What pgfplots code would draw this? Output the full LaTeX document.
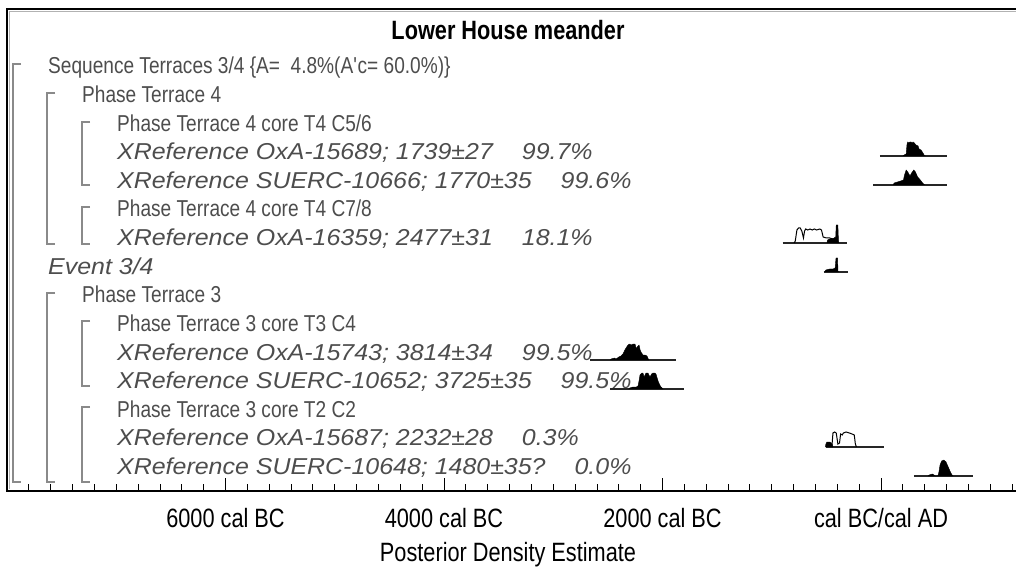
\documentclass[border=0pt]{standalone}
\usepackage{pgfplots}
\pgfplotsset{compat=1.18}
\usepackage{pgfplotstable}
\usepackage{fontspec}
\setmainfont{Liberation Sans}
\newfontfamily\rlab{Liberation Sans}[FakeStretch=0.83]
\newfontfamily\ilab{Liberation Sans}[FakeStretch=1.085]
\newfontfamily\tlab{Liberation Sans}[FakeStretch=0.82]
\definecolor{txt}{HTML}{4D4D4D}
\definecolor{brk}{HTML}{8A8A8A}
\newcommand{\xref}[2]{\ilab\itshape #1\hspace*{29pt}#2}

% posterior densities: x = year (BC negative), h = drawn height
\pgfplotstableread{
x h
200 0
211 1
230 2
238 12
245 14
256 13
265 14
275 14
285 13
293 14
305 13
320 11
339 10
348 7
366 6
384 3
394 1
405 0
}\oxaA
\pgfplotstableread{
x h
110 0
120 2
150 3
180 4
205 5
215 10
230 15
245 13
265 9
280 12
300 15
315 13
335 8
360 5
380 2
400 0
}\suercA
\pgfplotstableread{
x h
-795 0
-785 2
-770 13
-755 15
-740 15
-725 12
-710 5
-700 12
-690 14
-670 13
-650 14
-630 13
-610 14
-590 13
-560 14
-545 13
-530 6
-500 5
-470 5
-440 4
-410 4
-400 0
}\oxaBprior
\pgfplotstableread{
x h
-495 0
-490 3
-470 4
-450 4
-430 5
-415 6
-410 18
-395 18
-390 3
-385 0
}\oxaB
\pgfplotstableread{
x h
-515 0
-505 2
-470 3
-440 3
-420 4
-412 14
-398 14
-394 1
-390 0
}\event
\pgfplotstableread{
x h
-2480 0
-2471 1
-2440 2
-2426 1
-2400 3
-2380 4
-2362 6
-2345 10
-2334 12
-2316 15
-2300 16
-2288 15
-2270 16
-2252 16
-2240 11
-2233 13
-2215 15
-2205 10
-2197 8
-2179 5
-2160 5
-2142 4
-2130 1
-2124 0
}\oxaC
\pgfplotstableread{
x h
-2310 0
-2300 1
-2270 2
-2240 2
-2224 3
-2215 8
-2206 14
-2190 16
-2179 16
-2169 12
-2151 16
-2133 16
-2115 12
-2100 15
-2087 16
-2070 16
-2060 15
-2041 8
-2025 4
-2014 2
-1995 0
}\suercC
\pgfplotstableread{
x h
-450 0
-440 14
-425 15
-410 14
-395 3
-380 4
-370 13
-355 12
-345 14
-320 15
-290 14
-265 13
-245 12
-235 3
-225 0
}\oxaDprior
\pgfplotstableread{
x h
-510 0
-505 3
-495 5
-470 5
-455 4
-445 2
-440 0
}\oxaD
\pgfplotstableread{
x h
430 0
440 1
470 2
485 1
495 0
520 0
530 4
540 11
555 15
575 16
595 14
615 9
635 4
650 1
660 0
}\suercE

\begin{document}
\begin{tikzpicture}[font=\rlab\fontsize{23}{26}\selectfont]
\begin{axis}[
  scale only axis, width=1012pt, height=482pt,
  xmin=-8000, xmax=1263, ymin=0, ymax=482,
  axis line style={line width=1.8pt, black},
  xtick={-6000,-4000,-2000,0},
  xticklabels={6000 cal BC,4000 cal BC,2000 cal BC,cal BC/cal AD},
  minor xtick={-7800,-7600,...,1200},
  xtick pos=bottom, xtick align=inside, ytick=\empty,
  major tick length=13pt, minor tick length=7pt,
  major tick style={black, line width=0.9pt},
  minor tick style={black, line width=0.9pt},
  xticklabel style={font=\tlab\fontsize{26.5}{29}\selectfont, black, yshift=-14pt},
]
% baselines
\addplot[black!85, line width=1.4pt] coordinates {(-10,335) (605,335)};
\addplot[black!85, line width=1.4pt] coordinates {(-70,306) (605,306)};
\addplot[black!85, line width=1.4pt] coordinates {(-900,248) (-310,248)};
\addplot[black!85, line width=1.4pt] coordinates {(-525,219) (-300,219)};
\addplot[black!85, line width=1.4pt] coordinates {(-2660,131) (-1880,131)};
\addplot[black!85, line width=1.4pt] coordinates {(-2480,102) (-1800,102)};
\addplot[black!85, line width=1.4pt] coordinates {(-505,44) (25,44)};
\addplot[black!85, line width=1.4pt] coordinates {(300,15) (840,15)};
% priors (outline)
\addplot[black, line width=1pt] table[x=x, y expr=\thisrow{h}+248] {\oxaBprior};
\addplot[black, line width=1pt] table[x=x, y expr=\thisrow{h}+44] {\oxaDprior};
% posteriors (filled)
\addplot[fill=black, draw=black, line width=0.4pt] table[x=x, y expr=\thisrow{h}+335] {\oxaA};
\addplot[fill=black, draw=black, line width=0.4pt] table[x=x, y expr=\thisrow{h}+306] {\suercA};
\addplot[fill=black, draw=black, line width=0.4pt] table[x=x, y expr=\thisrow{h}+248] {\oxaB};
\addplot[fill=black, draw=black, line width=0.4pt] table[x=x, y expr=\thisrow{h}+219] {\event};
\addplot[fill=black, draw=black, line width=0.4pt] table[x=x, y expr=\thisrow{h}+131] {\oxaC};
\addplot[fill=black, draw=black, line width=0.4pt] table[x=x, y expr=\thisrow{h}+102] {\suercC};
\addplot[fill=black, draw=black, line width=0.4pt] table[x=x, y expr=\thisrow{h}+44] {\oxaD};
\addplot[fill=black, draw=black, line width=0.4pt] table[x=x, y expr=\thisrow{h}+15] {\suercE};
\end{axis}

% labels and brackets, in picture pixels (origin top left)
\begin{scope}[shift={(-7pt,491pt)}, x=1pt, y=-1pt]
\draw[gray!60, line width=1pt] (9,11.5) -- (1016,11.5);
\draw[gray!60, line width=1pt] (9.5,11) -- (9.5,489);
\node[anchor=base, font=\tlab\fontsize{26.5}{29}\selectfont\bfseries] at (508,40) {Lower House meander};
\node[anchor=base, font=\tlab\fontsize{26.5}{29}\selectfont] at (508,561) {Posterior Density Estimate};

\begin{scope}[every node/.style={inner sep=0pt, text=txt, anchor=base west}]
\node at (48,74) {Sequence Terraces 3/4 \{A=\ \ 4.8\%(A\textquotesingle c= 60.0\%)\}};
\node at (82,102.6) {Phase Terrace 4};
\node at (117,131.2) {Phase Terrace 4 core T4 C5/6};
\node at (117,159.8) {\xref{XReference OxA-15689; 1739±27}{99.7\%}};
\node at (117,188.4) {\xref{XReference SUERC-10666; 1770±35}{99.6\%}};
\node at (117,217) {Phase Terrace 4 core T4 C7/8};
\node at (117,245.6) {\xref{XReference OxA-16359; 2477±31}{18.1\%}};
\node at (48,274.2) {\ilab\itshape Event 3/4};
\node at (82,302.8) {Phase Terrace 3};
\node at (117,331.4) {Phase Terrace 3 core T3 C4};
\node at (117,360) {\xref{XReference OxA-15743; 3814±34}{99.5\%}};
\node at (117,388.6) {\xref{XReference SUERC-10652; 3725±35}{99.5\%}};
\node at (117,417.2) {Phase Terrace 3 core T2 C2};
\node at (117,445.8) {\xref{XReference OxA-15687; 2232±28}{0.3\%}};
\node at (117,474.4) {\xref{XReference SUERC-10648; 1480±35?}{0.0\%}};
\end{scope}

\begin{scope}[draw=brk, line width=1.3pt]
\draw (21,64) -- (13,64) -- (13,482) -- (21,482);
\draw (55,93) -- (47,93) -- (47,244) -- (55,244);
\draw (90,122) -- (82,122) -- (82,185) -- (90,185);
\draw (90,207) -- (82,207) -- (82,244) -- (90,244);
\draw (55,293) -- (47,293) -- (47,482) -- (55,482);
\draw (90,321) -- (82,321) -- (82,386) -- (90,386);
\draw (90,407) -- (82,407) -- (82,482) -- (90,482);
\end{scope}
\end{scope}

\pgfresetboundingbox
\path[use as bounding box] (-7pt,-82pt) rectangle (1009pt,491pt);
\end{tikzpicture}
\end{document}
